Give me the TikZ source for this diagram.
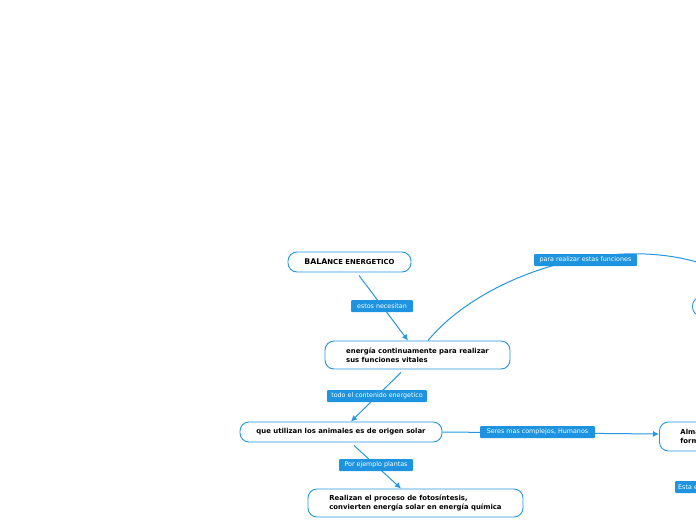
\documentclass[tikz,border=0pt]{standalone}
\usepackage{fontspec}
\setmainfont{DejaVu Sans}
\usetikzlibrary{arrows.meta,calc}
\definecolor{mmblue}{RGB}{38,150,222}
\definecolor{lblblue}{RGB}{30,148,225}
\tikzset{
  topic/.style={draw=mmblue, line width=0.9pt, rounded corners=9pt, fill=white,
    font=\fontsize{6.9}{9}\selectfont\bfseries, text=black, inner sep=0pt, align=left},
  lbl/.style={fill=lblblue, rounded corners=1pt, text=white, inner xsep=3pt, inner ysep=0pt,
    minimum height=12pt, font=\fontsize{6.35}{7}\selectfont},
  conn/.style={draw=mmblue, line width=1pt, -{Latex[length=6pt,width=6pt]}},
}
\begin{document}
\begin{tikzpicture}[x=1pt,y=-1pt]
\useasboundingbox (0,0) rectangle (696,520);
\clip (0,0) rectangle (696,520);
% topics
\node[topic, minimum width=123pt, minimum height=20pt] (bal) at (349.5,262)
  {{\fontsize{7.8}{9}\selectfont BALA}{\fontsize{6.9}{9}\selectfont NCE ENERGETICO}};
\node[topic, minimum width=185pt, minimum height=28pt] (ene) at (417.5,355)
  {energía continuamente para realizar\\sus funciones vitales};
\node[topic, minimum width=202pt, minimum height=20pt] (que) at (341,432)
  {que utilizan los animales es de origen solar};
\node[topic, minimum width=215pt, minimum height=28pt] (rea) at (415.5,503)
  {Realizan el proceso de fotosíntesis,\\convierten energía solar en energía química};
\node[topic, anchor=west, minimum height=29pt, text width=120pt, inner xsep=21pt] (alm) at (659,436.5)
  {Alma\\form};
\node[topic, anchor=west, minimum width=150pt, minimum height=19pt] (six) at (692,306.5) {};
% connectors
\draw[conn] ([xshift=9.5pt,yshift=-3pt]bal.south) -- ([xshift=-9.5pt]ene.north);
\draw[conn] ([xshift=-16.5pt,yshift=-3pt]ene.south) -- ([xshift=10pt]que.north);
\draw[conn] ([xshift=13pt,yshift=-3pt]que.south) -- ([xshift=-14.5pt]rea.north);
\draw[conn] (que.east) -- ([yshift=2.5pt]alm.west);
\draw[conn] ([xshift=10.5pt]ene.north) .. controls (490,265) and (660,215) .. ([xshift=-4pt]six.north);
% labels
\node[lbl, minimum width=62pt] (l1) at (382,306) {estos necesitan};
\node[lbl, minimum width=100pt] (l2) at (377,396) {todo el contenido energetico};
\node[lbl, minimum width=74pt] (l3) at (376,465) {Por ejemplo plantas};
\node[lbl, minimum width=115pt] (l4) at (537.5,432) {Seres mas complejos, Humanos};
\node[lbl, minimum width=103pt] (l5) at (585.5,260) {para realizar estas funciones};
\node[lbl, anchor=west, minimum width=60pt, align=left, text width=54pt] (l6) at (675,487) {Esta e};
\end{tikzpicture}
\end{document}
